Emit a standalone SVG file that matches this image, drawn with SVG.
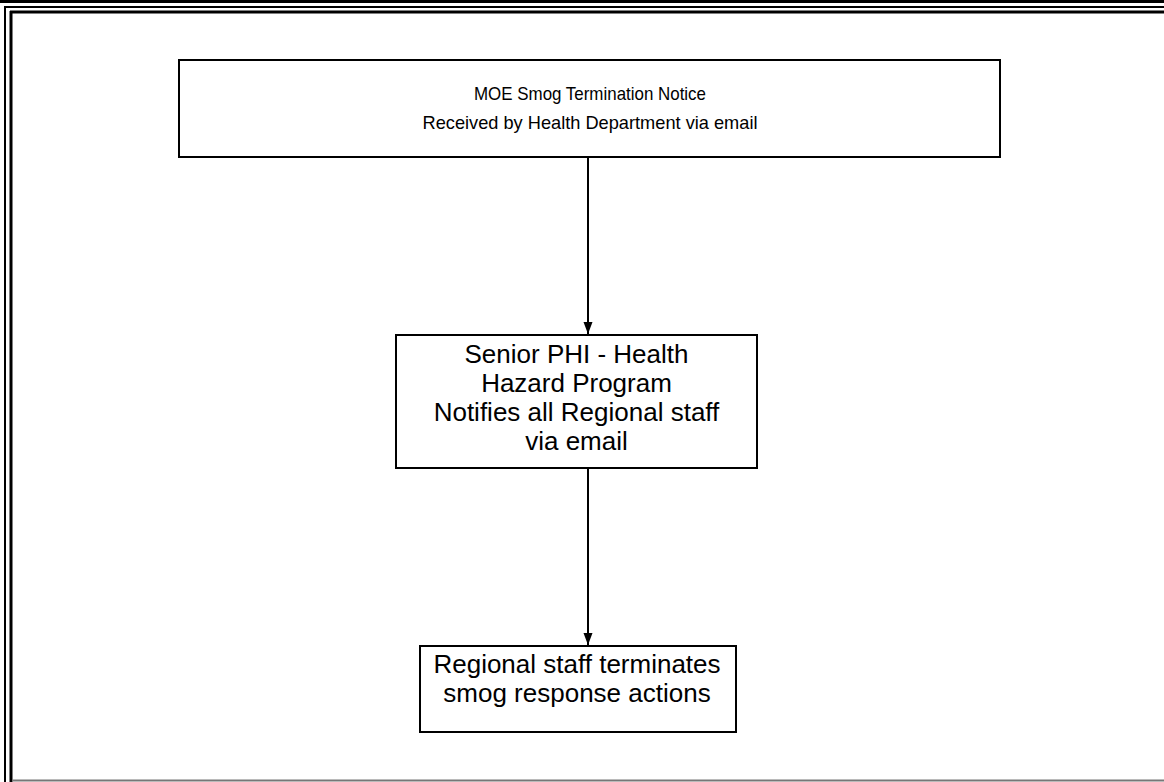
<svg xmlns="http://www.w3.org/2000/svg" width="1164" height="782" viewBox="0 0 1164 782">
<style>
.box{fill:#fff;stroke:#000;stroke-width:2}
.t{font-family:"Liberation Sans",Arial,sans-serif;font-size:26px;fill:#000;text-anchor:middle}
.s{font-size:19px}
.c{stroke:#000;stroke-width:2;fill:none}
.f{stroke:#000;fill:none}
</style>
<defs>
<marker id="ah" markerWidth="12" markerHeight="16" refX="16" refY="6" orient="auto" markerUnits="userSpaceOnUse" viewBox="0 0 16 12">
<path d="M0,0 L16,6 L0,12 Z" fill="#000"/>
</marker>
</defs>
<rect width="1164" height="782" fill="#fff"/>
<g id="frame">
<line class="f" x1="0" y1="1.5" x2="1164" y2="1.5" stroke-width="3"/>
<line class="f" x1="4" y1="7" x2="1164" y2="7" stroke-width="2"/>
<line class="f" x1="5" y1="6" x2="5" y2="782" stroke-width="2"/>
<line class="f" x1="10" y1="12" x2="1164" y2="12" stroke-width="3"/>
<line class="f" x1="11" y1="11" x2="11" y2="782" stroke-width="3"/>
<line x1="12" y1="780.5" x2="1164" y2="780.5" stroke="#777" stroke-width="2"/>
</g>
<g id="connectors">
<line class="c" x1="588" y1="157" x2="588" y2="334" marker-end="url(#ah)"/>
<line class="c" x1="588" y1="468" x2="588" y2="645" marker-end="url(#ah)"/>
</g>
<g id="n1">
<rect class="box" x="179" y="60" width="821" height="97"/>
<text class="t s" x="590" y="100" textLength="232" lengthAdjust="spacingAndGlyphs">MOE Smog Termination Notice</text>
<text class="t s" x="590" y="129" textLength="335" lengthAdjust="spacingAndGlyphs">Received by Health Department via email</text>
</g>
<g id="n2">
<rect class="box" x="396" y="335" width="361" height="133"/>
<text class="t" x="576.5" y="363">Senior PHI - Health</text>
<text class="t" x="576.5" y="392">Hazard Program</text>
<text class="t" x="576.5" y="421">Notifies all Regional staff</text>
<text class="t" x="576.5" y="450">via email</text>
</g>
<g id="n3">
<rect class="box" x="420" y="646" width="316" height="86"/>
<text class="t" x="577" y="673">Regional staff terminates</text>
<text class="t" x="577" y="702">smog response actions</text>
</g>
</svg>
